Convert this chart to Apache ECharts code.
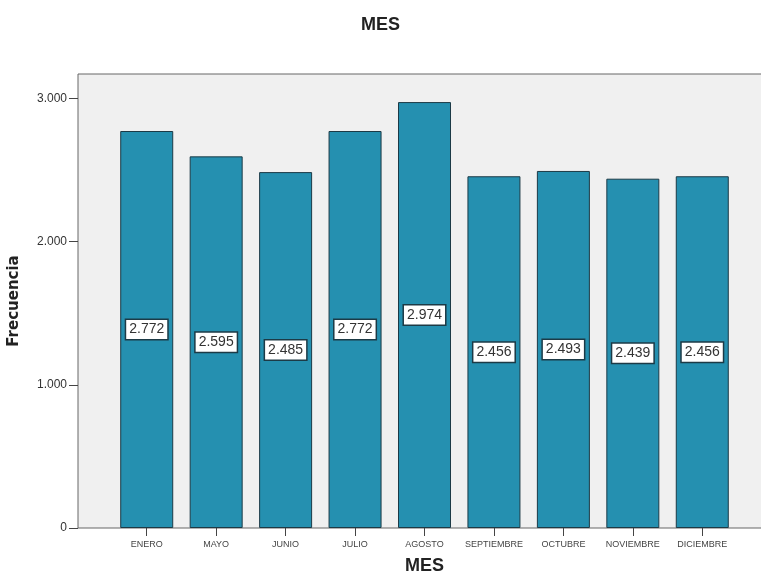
<!DOCTYPE html>
<html>
<head>
<meta charset="utf-8">
<script src="https://cdn.jsdelivr.net/npm/echarts@6/dist/echarts.min.js"></script>
<style>
  html, body { margin: 0; padding: 0; background: #fff; }
  #chart { width: 761px; height: 578px; }
</style>
</head>
<body>
<div id="chart"></div>
<script>
const months = ['ENERO', 'MAYO', 'JUNIO', 'JULIO', 'AGOSTO', 'SEPTIEMBRE', 'OCTUBRE', 'NOVIEMBRE', 'DICIEMBRE']
const counts = [2772, 2595, 2485, 2772, 2974, 2456, 2493, 2439, 2456]
const yTicks = [0, 1000, 2000, 3000]
const yMax = 3170

const fmt = v => String(v).replace(/\B(?=(\d{3})+(?!\d))/g, '.')

const chart = echarts.init(document.getElementById('chart'))
chart.setOption({
  animation: false,
  title: {
    text: 'MES',
    left: 'center',
    top: 11,
    textStyle: { fontFamily: 'Liberation Sans', fontSize: 18, fontWeight: 'bold', color: '#222' }
  },
  grid: [
    // frame and y axis
    { left: 78, right: -3, top: 74, bottom: 50, outerBoundsMode: 'none', show: true, backgroundColor: '#f0f0f0', borderColor: '#666', borderWidth: 1 },
    // bars and category axis
    { left: 112, right: 24, top: 74, bottom: 50, outerBoundsMode: 'none' }
  ],
  xAxis: [
    { type: 'category', gridIndex: 0, data: months, show: false },
    {
      type: 'category', gridIndex: 1, data: months,
      axisLine: { show: false },
      axisTick: { show: true, alignWithLabel: true, length: 8, lineStyle: { color: '#444' } },
      axisLabel: { interval: 0, hideOverlap: false, fontFamily: 'Liberation Sans', fontSize: 9, color: '#444', margin: 12 },
      name: 'MES',
      nameLocation: 'middle',
      nameGap: 29,
      nameTextStyle: { fontFamily: 'Liberation Sans', fontSize: 18, fontWeight: 'bold', color: '#222' }
    }
  ],
  yAxis: [
    {
      type: 'value', gridIndex: 0, min: 0, max: yMax,
      splitLine: { show: false },
      axisLine: { show: false },
      axisTick: { show: true, length: 9, customValues: yTicks, lineStyle: { color: '#444' } },
      axisLabel: { customValues: yTicks, formatter: fmt, fontFamily: 'Liberation Sans', fontSize: 12, color: '#333', margin: 11 },
      name: 'Frecuencia',
      nameLocation: 'middle',
      nameGap: 56,
      nameTextStyle: { fontFamily: 'DejaVu Sans', fontSize: 15, fontWeight: 'bold', color: '#222' }
    },
    { type: 'value', gridIndex: 1, min: 0, max: yMax, show: false }
  ],
  series: [{
    type: 'bar',
    xAxisIndex: 1,
    yAxisIndex: 1,
    data: counts,
    barWidth: 53,
    itemStyle: { color: '#2590b0', borderColor: '#1c3a46', borderWidth: 1 },
    label: {
      show: true,
      position: 'inside',
      formatter: p => fmt(p.value),
      fontFamily: 'Liberation Sans',
      fontSize: 14,
      color: '#333',
      backgroundColor: '#fff',
      borderColor: '#1c3a46',
      borderWidth: 1.5,
      padding: [3, 3, 2, 3]
    }
  }]
})
</script>
</body>
</html>
